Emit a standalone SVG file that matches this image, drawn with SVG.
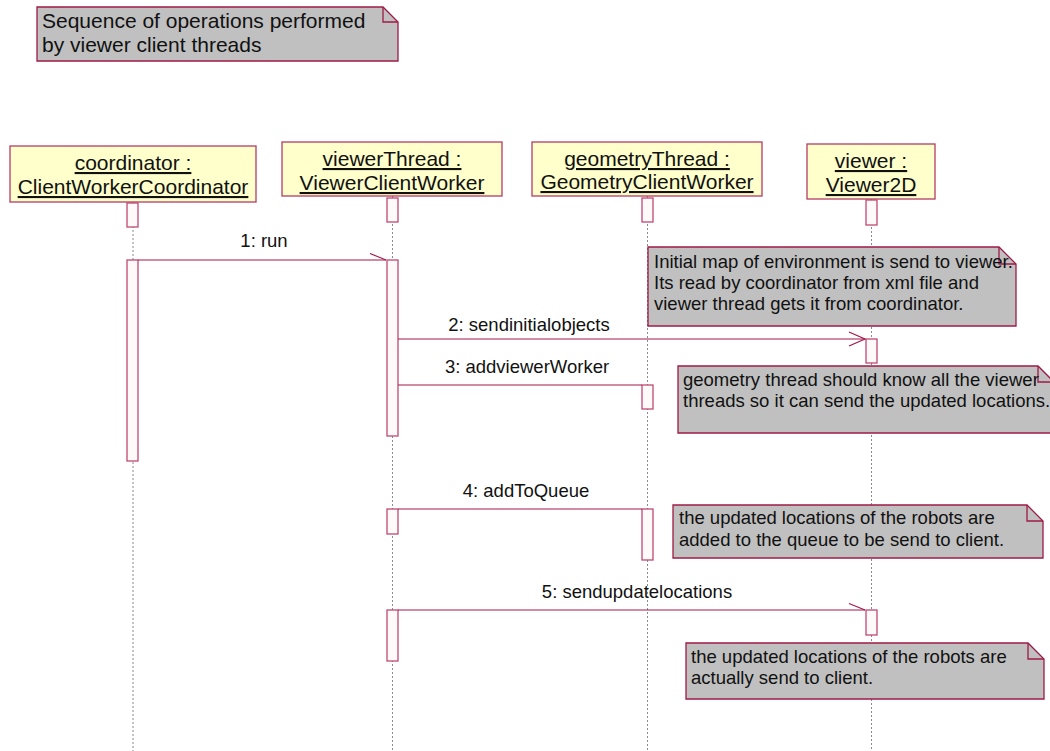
<svg xmlns="http://www.w3.org/2000/svg" width="1050" height="751" viewBox="0 0 1050 751">
<style>
text{font-family:"Liberation Sans",Arial,sans-serif;fill:#111}
.hd{fill:#ffffcc;stroke:#b43c64;stroke-width:1.3}
.ht{font-size:21px;text-anchor:middle;text-decoration:underline}
.ll{stroke:#8a8a8a;stroke-width:1;stroke-dasharray:2 2}
.act{fill:#fffafa;stroke:#bf4a72;stroke-width:1.3}
.nt{fill:#c0c0c0;stroke:#9e1a44;stroke-width:1.3}
.fold{fill:none;stroke:#9e1a44;stroke-width:1.3}
.ntx{font-size:18.5px}
.msg{stroke:#a3184a;stroke-width:1.2;fill:none}
.ml{font-size:18.5px;text-anchor:middle}
</style>
<defs>
<marker id="open" markerUnits="userSpaceOnUse" markerWidth="18" markerHeight="16" refX="16" refY="7" orient="auto" overflow="visible">
<path d="M0,0 L16,7 L0,14" fill="none" stroke="#a3184a" stroke-width="1.2"/>
</marker>
<marker id="half" markerUnits="userSpaceOnUse" markerWidth="18" markerHeight="16" refX="16" refY="7" orient="auto" overflow="visible">
<path d="M0,0.5 L16,7" fill="none" stroke="#a3184a" stroke-width="1.2"/>
</marker>
</defs>
<rect width="1050" height="751" fill="#fff"/>

<g id="note-title">
<path class="nt" d="M37,7 H383 L398,22 V61 H37 Z"/>
<path class="fold" d="M383,7 V22 H398"/>
<text x="42" y="28" font-size="21">Sequence of operations performed</text>
<text x="42" y="52" font-size="21">by viewer client threads</text>
</g>

<g id="coordinator">
<line class="ll" x1="133" y1="202" x2="133" y2="751"/>
<rect class="hd" x="10" y="146" width="246" height="56"/>
<text class="ht" x="133" y="170">coordinator :</text>
<text class="ht" x="133" y="194">ClientWorkerCoordinator</text>
<rect class="act" x="127" y="203" width="11" height="24"/>
<rect class="act" x="127" y="260" width="11" height="201"/>
</g>

<g id="viewerThread">
<line class="ll" x1="392.5" y1="196" x2="392.5" y2="751"/>
<rect class="hd" x="282" y="142" width="220" height="54"/>
<text class="ht" x="392" y="166">viewerThread :</text>
<text class="ht" x="392" y="190">ViewerClientWorker</text>
<rect class="act" x="387" y="198" width="11" height="24"/>
<rect class="act" x="387" y="260" width="11" height="176"/>
<rect class="act" x="387" y="509" width="11" height="25"/>
<rect class="act" x="387" y="610" width="11" height="51"/>
</g>

<g id="geometryThread">
<line class="ll" x1="647.5" y1="196" x2="647.5" y2="751"/>
<rect class="hd" x="532" y="142" width="230" height="54"/>
<text class="ht" x="647" y="166">geometryThread :</text>
<text class="ht" x="647" y="189">GeometryClientWorker</text>
<rect class="act" x="642" y="198" width="11" height="24"/>
<rect class="act" x="642" y="385" width="11" height="24"/>
<rect class="act" x="642" y="509" width="11" height="51"/>
</g>

<g id="viewer">
<line class="ll" x1="871.5" y1="199" x2="871.5" y2="751"/>
<rect class="hd" x="807" y="144" width="128" height="55"/>
<text class="ht" x="871" y="168">viewer :</text>
<text class="ht" x="871" y="192">Viewer2D</text>
<rect class="act" x="866" y="200" width="11" height="25"/>
<rect class="act" x="866" y="339" width="11" height="24"/>
<rect class="act" x="866" y="610" width="11" height="25"/>
</g>

<g id="note-initial">
<path class="nt" d="M648,247 H999 L1016,264 V326 H648 Z"/>
<path class="fold" d="M999,247 V264 H1016"/>
<text class="ntx" x="654" y="268">Initial map of environment is send to viewer.</text>
<text class="ntx" x="654" y="289">Its read by coordinator from xml file and</text>
<text class="ntx" x="654" y="310">viewer thread gets it from coordinator.</text>
</g>

<g id="note-geometry">
<path class="nt" d="M678,366 H1038 L1054,382 V433 H678 Z"/>
<path class="fold" d="M1038,366 V382 H1054"/>
<text class="ntx" x="683" y="386">geometry thread should know all the viewer</text>
<text class="ntx" x="683" y="407">threads so it can send the updated locations.</text>
</g>

<g id="note-queue">
<path class="nt" d="M673,505 H1027 L1043,521 V558 H673 Z"/>
<path class="fold" d="M1027,505 V521 H1043"/>
<text class="ntx" x="679" y="524">the updated locations of the robots are</text>
<text class="ntx" x="679" y="546">added to the queue to be send to client.</text>
</g>

<g id="note-send">
<path class="nt" d="M686,643 H1028 L1044,659 V699 H686 Z"/>
<path class="fold" d="M1028,643 V659 H1044"/>
<text class="ntx" x="691" y="663">the updated locations of the robots are</text>
<text class="ntx" x="691" y="684">actually send to client.</text>
</g>

<g id="connectors">
<line class="msg" x1="138" y1="260" x2="386" y2="260" marker-end="url(#half)"/>
<text class="ml" x="264" y="247">1: run</text>
<line class="msg" x1="398" y1="339" x2="865" y2="339" marker-end="url(#open)"/>
<text class="ml" x="529" y="331">2: sendinitialobjects</text>
<line class="msg" x1="398" y1="385" x2="642" y2="385"/>
<text class="ml" x="527" y="373">3: addviewerWorker</text>
<line class="msg" x1="398" y1="509" x2="642" y2="509"/>
<text class="ml" x="526" y="497">4: addToQueue</text>
<line class="msg" x1="398" y1="610" x2="865" y2="610" marker-end="url(#half)"/>
<text class="ml" x="637" y="598">5: sendupdatelocations</text>
</g>
</svg>
